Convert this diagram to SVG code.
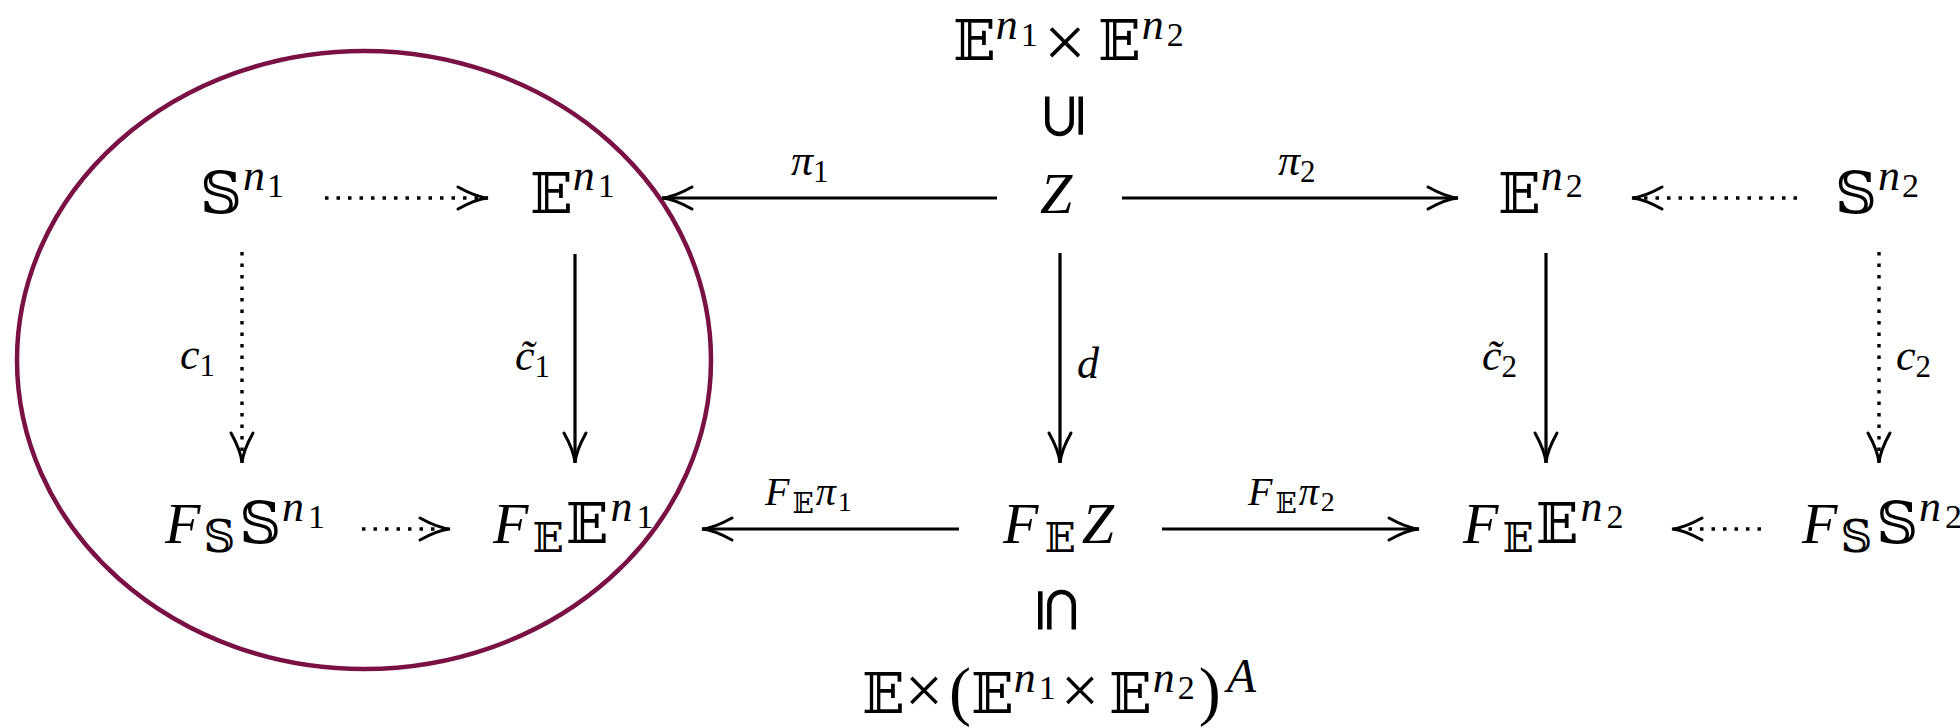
<svg xmlns="http://www.w3.org/2000/svg" width="1960" height="728" viewBox="0 0 1960 728">
<defs>
<style>
.t{font-family:"Liberation Serif","DejaVu Serif",serif;fill:#000}
.i{font-style:italic}
.bb{font-family:"DejaVu Serif","DejaVu Sans","Liberation Serif",serif;font-style:normal}
.m{font-size:58px}
.e{font-size:56px}
.es{font-size:41px}
.s{font-size:44px}
.ss{font-size:34px}
.x{font-size:75px}
.x2{font-size:68px}
.p{font-size:66px}
.l{font-size:44px}
.ls{font-size:31px}
.fl{font-size:40px}
.fls{font-size:28px}
.sym{font-family:"DejaVu Sans","Liberation Serif",sans-serif;font-size:62px;fill:#000}
.ln{stroke:#000;stroke-width:3.2;fill:none}
.dt{stroke:#000;stroke-width:3.4;fill:none;stroke-dasharray:3.5 8}
</style>
<marker id="ah" markerUnits="userSpaceOnUse" markerWidth="40" markerHeight="30" viewBox="-34 -15 40 30" refX="0" refY="0" orient="auto" overflow="visible">
<path d="M -30 -11 Q -12 -1 0 0 Q -12 1 -30 11" fill="none" stroke="#000" stroke-width="3" stroke-linecap="round"/>
</marker>
</defs>
<rect width="1960" height="728" fill="#fff"/>

<ellipse id="highlight" cx="364" cy="360" rx="347" ry="309" fill="none" stroke="#7a1144" stroke-width="4.5"/>

<g id="connectors">
<line class="dt" x1="325" y1="198" x2="488" y2="198" marker-end="url(#ah)"/>
<line class="ln" x1="997" y1="198" x2="662" y2="198" marker-end="url(#ah)"/>
<line class="ln" x1="1122" y1="198" x2="1458" y2="198" marker-end="url(#ah)"/>
<line class="dt" x1="1797" y1="198" x2="1632" y2="198" marker-end="url(#ah)"/>
<line class="dt" x1="242" y1="252" x2="242" y2="463" marker-end="url(#ah)"/>
<line class="ln" x1="575" y1="254" x2="575" y2="463" marker-end="url(#ah)"/>
<line class="ln" x1="1060" y1="253" x2="1060" y2="463" marker-end="url(#ah)"/>
<line class="ln" x1="1546" y1="253" x2="1546" y2="463" marker-end="url(#ah)"/>
<line class="dt" x1="1879" y1="252" x2="1879" y2="463" marker-end="url(#ah)"/>
<line class="dt" x1="362" y1="529" x2="450" y2="529" marker-end="url(#ah)"/>
<line class="ln" x1="959" y1="529" x2="702" y2="529" marker-end="url(#ah)"/>
<line class="ln" x1="1162" y1="529" x2="1419" y2="529" marker-end="url(#ah)"/>
<line class="dt" x1="1761" y1="529" x2="1672" y2="529" marker-end="url(#ah)"/>
<text class="sym" transform="translate(1063,116) rotate(-90)" text-anchor="middle" y="20">⊆</text>
<text class="sym" transform="translate(1058,610) rotate(90)" text-anchor="middle" y="20">⊆</text>
<text class="t" x="791" y="175"><tspan class="i l">π</tspan><tspan class="ls" dy="7">1</tspan></text>
<text class="t" x="1278" y="175"><tspan class="i l">π</tspan><tspan class="ls" dy="7">2</tspan></text>
<text class="t" x="765" y="505"><tspan class="i fl">F</tspan><tspan class="bb fls" dx="3" dy="8">𝔼</tspan><tspan class="i fl" dx="2" dy="-8">π</tspan><tspan class="fls" dx="2" dy="6">1</tspan></text>
<text class="t" x="1248" y="505"><tspan class="i fl">F</tspan><tspan class="bb fls" dx="3" dy="8">𝔼</tspan><tspan class="i fl" dx="2" dy="-8">π</tspan><tspan class="fls" dx="2" dy="6">2</tspan></text>
<text class="t" x="180" y="369"><tspan class="i l">c</tspan><tspan class="ls" dy="7">1</tspan></text>
<text class="t" x="515" y="370"><tspan class="i l">c̃</tspan><tspan class="ls" dy="7">1</tspan></text>
<text class="t i l" x="1077" y="378">d</text>
<text class="t" x="1482" y="370"><tspan class="i l">c̃</tspan><tspan class="ls" dy="7">2</tspan></text>
<text class="t" x="1896" y="370"><tspan class="i l">c</tspan><tspan class="ls" dy="7">2</tspan></text>
</g>

<g id="node-product">
<text class="t m" x="953" y="60"><tspan class="bb e">𝔼</tspan><tspan class="i s" dy="-21">n</tspan><tspan class="ss" dx="3" dy="7">1</tspan><tspan class="x" dx="6" dy="21">×</tspan><tspan class="bb e" dx="12" dy="-7">𝔼</tspan><tspan class="i s" dx="1" dy="-21">n</tspan><tspan class="ss" dx="3" dy="7">2</tspan></text>
</g>
<g id="node-S1">
<text class="t m" x="200" y="213"><tspan class="bb">𝕊</tspan><tspan class="i s" dx="1" dy="-23">n</tspan><tspan class="ss" dx="2" dy="7">1</tspan></text>
</g>
<g id="node-E1">
<text class="t m" x="530" y="213"><tspan class="bb e">𝔼</tspan><tspan class="i s" dy="-23">n</tspan><tspan class="ss" dx="3" dy="7">1</tspan></text>
</g>
<g id="node-Z">
<text class="t m i" x="1040" y="213">Z</text>
</g>
<g id="node-E2">
<text class="t m" x="1498" y="213"><tspan class="bb e">𝔼</tspan><tspan class="i s" dy="-23">n</tspan><tspan class="ss" dx="3" dy="7">2</tspan></text>
</g>
<g id="node-S2">
<text class="t m" x="1835" y="213"><tspan class="bb">𝕊</tspan><tspan class="i s" dx="1" dy="-23">n</tspan><tspan class="ss" dx="2" dy="7">2</tspan></text>
</g>
<g id="node-FS1">
<text class="t m" x="165" y="543"><tspan class="i">F</tspan><tspan class="bb s" dx="3" dy="9">𝕊</tspan><tspan class="bb" dx="4" dy="-9">𝕊</tspan><tspan class="i s" dx="1" dy="-22">n</tspan><tspan class="ss" dx="4" dy="7">1</tspan></text>
</g>
<g id="node-FE1">
<text class="t m" x="493" y="543"><tspan class="i">F</tspan><tspan class="bb es" dx="4" dy="9">𝔼</tspan><tspan class="bb e" dx="2" dy="-9">𝔼</tspan><tspan class="i s" dx="2" dy="-22">n</tspan><tspan class="ss" dx="4" dy="7">1</tspan></text>
</g>
<g id="node-FZ">
<text class="t m" x="1003" y="543"><tspan class="i">F</tspan><tspan class="bb es" dx="6" dy="9">𝔼</tspan><tspan class="i" dx="6" dy="-9">Z</tspan></text>
</g>
<g id="node-FE2">
<text class="t m" x="1463" y="543"><tspan class="i">F</tspan><tspan class="bb es" dx="4" dy="9">𝔼</tspan><tspan class="bb e" dx="2" dy="-9">𝔼</tspan><tspan class="i s" dx="2" dy="-22">n</tspan><tspan class="ss" dx="4" dy="7">2</tspan></text>
</g>
<g id="node-FS2">
<text class="t m" x="1802" y="543"><tspan class="i">F</tspan><tspan class="bb s" dx="3" dy="9">𝕊</tspan><tspan class="bb" dx="4" dy="-9">𝕊</tspan><tspan class="i s" dx="1" dy="-22">n</tspan><tspan class="ss" dx="4" dy="7">2</tspan></text>
</g>
<g id="node-ambient">
<text class="t m" x="862" y="713"><tspan class="bb e">𝔼</tspan><tspan class="x2" dx="0">×</tspan><tspan class="p" dx="6">(</tspan><tspan class="bb e">𝔼</tspan><tspan class="i s" dy="-21">n</tspan><tspan class="ss" dx="3" dy="7">1</tspan><tspan class="x2" dx="5" dy="14">×</tspan><tspan class="bb e" dx="10">𝔼</tspan><tspan class="i s" dx="1" dy="-21">n</tspan><tspan class="ss" dx="3" dy="7">2</tspan><tspan class="p" dx="4" dy="14">)</tspan><tspan class="i" style="font-size:48px" dx="6" dy="-21">A</tspan></text>
</g>
</svg>
